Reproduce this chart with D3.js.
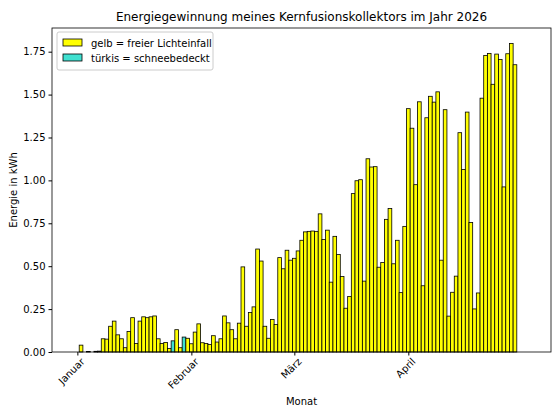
<!DOCTYPE html>
<html><head><meta charset="utf-8">
<script src="https://cdn.jsdelivr.net/npm/d3@7"></script>
<style>body{margin:0;background:#fff}text{font-family:"DejaVu Sans",sans-serif}</style>
</head><body><svg id="chart"></svg>
<script>
// Daily energy values, 1 Jan .. 30 Apr 2026 (kWh)
const values = [
  0, 0.04, 0, 0.003, 0, 0.004, 0.005, 0.077, 0.075, 0.15, 0.18, 0.10, 0.077, 0.025, 0.12, 0.20,
  0.05, 0.18, 0.205, 0.20, 0.205, 0.21, 0.077, 0.05, 0.055, 0.02, 0.065, 0.13, 0.025, 0.087, 0.08,
  0.048, 0.116, 0.164, 0.054, 0.05, 0.044, 0.095, 0.058, 0.077, 0.21, 0.17, 0.13, 0.077, 0.168,
  0.496, 0.15, 0.23, 0.263, 0.60, 0.53, 0.15, 0.08, 0.19, 0.16, 0.55, 0.485, 0.593, 0.535,
  0.546, 0.589, 0.651, 0.70, 0.703, 0.705, 0.703, 0.805, 0.655, 0.71, 0.407, 0.674, 0.568, 0.44,
  0.255, 0.324, 0.923, 0.998, 1.004, 0.413, 1.126, 1.078, 1.08, 0.494, 0.521, 0.773, 0.836, 0.514,
  0.651, 0.346, 0.732,
  1.418, 1.304, 0.975, 1.458, 0.386, 1.365, 1.49, 1.456, 1.516, 0.535, 1.412, 0.209, 0.348, 0.442,
  1.278, 1.064, 1.398, 0.755, 0.251, 0.344, 1.479, 1.728, 1.74, 1.56, 1.736, 1.705, 0.962, 1.738,
  1.798, 1.674
];
const snowDays = [26, 29]; // day indices covered by snow
const monthLabels = ["Januar", "Februar", "März", "April"];
const monthStarts = [0, 31, 59, 90];
const yTicks = [0, 0.25, 0.5, 0.75, 1.0, 1.25, 1.5, 1.75];

const W = 554, H = 416;
const m = { left: 52, right: 3, top: 28, bottom: 64 };
const iw = W - m.left - m.right, ih = H - m.top - m.bottom;

const svg = d3.select("#chart").attr("width", W).attr("height", H);
const g = svg.append("g").attr("transform", `translate(${m.left},${m.top})`);

const x = d3.scaleLinear().domain([-6.9, 128.8]).range([0, iw]);
const y = d3.scaleLinear().domain([0, 1.888]).range([ih, 0]);
const bw = x(1) - x(0);

g.selectAll("rect.bar").data(values).join("rect")
  .attr("class", "bar")
  .attr("x", (d, i) => x(i) - bw / 2)
  .attr("width", bw)
  .attr("y", d => y(d))
  .attr("height", d => ih - y(d))
  .attr("fill", (d, i) => snowDays.includes(i) ? "#40e0d0" : "#ffff00")
  .attr("stroke", "#000").attr("stroke-width", 0.8);

const xAxis = g.append("g").attr("transform", `translate(0,${ih})`)
  .call(d3.axisBottom(x).tickValues(monthStarts).tickFormat((d, i) => monthLabels[i]).tickSize(3.5));
xAxis.selectAll("text").attr("font-size", 10).attr("text-anchor", "end")
  .attr("transform", "rotate(-45)").attr("dx", "-0.2em").attr("dy", "0.6em");

const yAxis = g.append("g")
  .call(d3.axisLeft(y).tickValues(yTicks).tickFormat(d3.format(".2f")).tickSize(3.5));
yAxis.selectAll("text").attr("font-size", 10);
[xAxis, yAxis].forEach(a => { a.select(".domain").remove(); a.selectAll("line").attr("stroke", "#000"); });

g.append("rect").attr("width", iw).attr("height", ih)
  .attr("fill", "none").attr("stroke", "#000").attr("stroke-width", 0.8);

svg.append("text").attr("x", m.left + iw / 2).attr("y", 21).attr("text-anchor", "middle")
  .attr("font-size", 12).text("Energiegewinnung meines Kernfusionskollektors im Jahr 2026");
svg.append("text").attr("x", m.left + iw / 2).attr("y", 405).attr("text-anchor", "middle")
  .attr("font-size", 10).text("Monat");
svg.append("text").attr("transform", `translate(17,${m.top + ih / 2}) rotate(-90)`)
  .attr("text-anchor", "middle").attr("font-size", 10).text("Energie in kWh");

// Legend
const lg = g.append("g").attr("transform", "translate(5,4)");
lg.append("rect").attr("width", 156).attr("height", 38).attr("rx", 2)
  .attr("fill", "#fff").attr("fill-opacity", 0.8).attr("stroke", "#ccc");
[["gelb = freier Lichteinfall", "#ffff00"], ["türkis = schneebedeckt", "#40e0d0"]].forEach((e, i) => {
  const row = lg.append("g").attr("transform", `translate(6,${6 + i * 15})`);
  row.append("rect").attr("width", 19).attr("height", 7).attr("y", 1)
    .attr("fill", e[1]).attr("stroke", "#000").attr("stroke-width", 0.8);
  row.append("text").attr("x", 28).attr("y", 8.5).attr("font-size", 10).text(e[0]);
});
</script></body></html>
